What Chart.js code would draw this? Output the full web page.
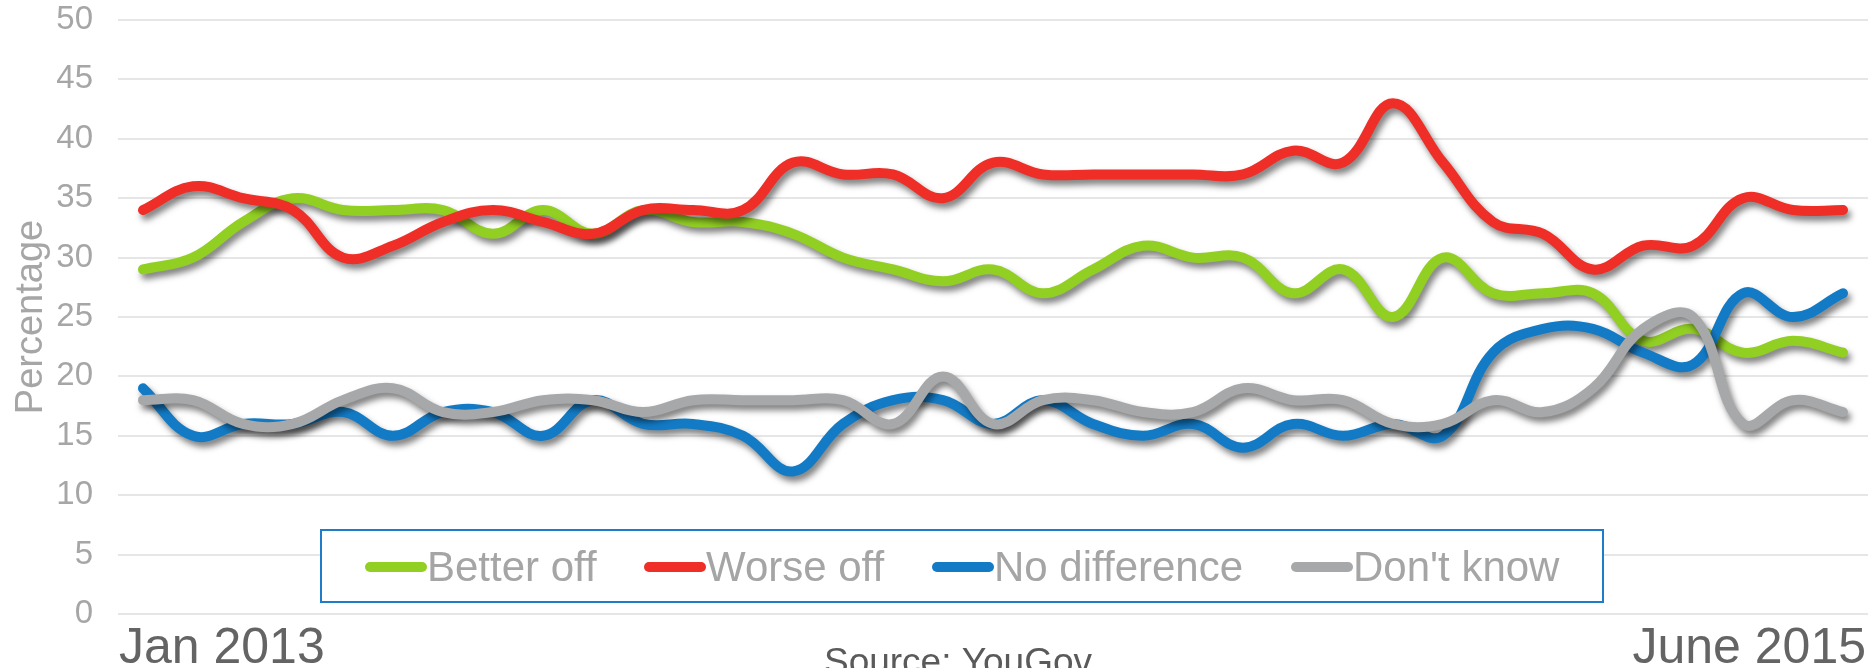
<!DOCTYPE html>
<html>
<head>
<meta charset="utf-8">
<script src="https://cdn.jsdelivr.net/npm/chart.js@4.4.1/dist/chart.umd.min.js"></script>
<style>
  html, body { margin: 0; padding: 0; background: #ffffff; }
  #wrap { width: 1870px; height: 668px; position: relative; }
</style>
</head>
<body>
<div id="wrap"><canvas id="c" width="1870" height="668"></canvas></div>
<script>
// ---- data ----
const categories = ['Jan 2013','','','','','','','','','','','','','','','','','','','','','','','','','','','','','','','','','','June 2015'];
const betterOff    = [29,30,33,35,34,34,34,32,34,32,34,33,33,32,30,29,28,29,27,29,31,30,30,27,29,25,30,27,27,27,23,24,22,23,22];
const worseOff     = [34,36,35,34,30,31,33,34,33,32,34,34,34,38,37,37,35,38,37,37,37,37,37,39,38,43,38,33,32,29,31,31,35,34,34];
const noDifference = [19,15,16,16,17,15,17,17,15,18,16,16,15,12,16,18,18,16,18,16,15,16,14,16,15,16,15,22,24,24,22,21,27,25,27];
const dontKnow     = [18,18,16,16,18,19,17,17,18,18,17,18,18,18,18,16,20,16,18,18,17,17,19,18,18,16,16,18,17,19,24,25,16,18,17];
const seriesNames  = ['Better off','Worse off','No difference',"Don't know"];
const seriesColors = ['#92cf23','#ee2e27','#137bc6','#a7a8aa'];
const yTicks = [0,5,10,15,20,25,30,35,40,45,50];
const sourceText = 'Source: YouGov';
const yTitle = 'Percentage';

const FONT = "'Liberation Sans', Arial, Helvetica, sans-serif";

const shadowPlugin = {
  id: 'shadow',
  beforeDatasetDraw(chart) {
    const ctx = chart.ctx;
    ctx.save();
    ctx.shadowColor = 'rgba(0,0,0,0.5)';
    ctx.shadowBlur = 6;
    ctx.shadowOffsetX = 3;
    ctx.shadowOffsetY = 5;
  },
  afterDatasetDraw(chart) {
    chart.ctx.restore();
  }
};

const decorPlugin = {
  id: 'decor',
  afterDraw(chart) {
    const ctx = chart.ctx;
    const area = chart.chartArea;
    ctx.save();
    // x edge labels
    ctx.font = '50px ' + FONT;
    ctx.fillStyle = '#646464';
    ctx.textBaseline = 'alphabetic';
    ctx.textAlign = 'left';
    ctx.fillText(categories[0], area.left + 1, 663);
    ctx.textAlign = 'right';
    ctx.fillText(categories[categories.length - 1], area.right - 2, 663);
    // source
    ctx.font = '37px ' + FONT;
    ctx.fillStyle = '#5a5a5a';
    ctx.textAlign = 'center';
    ctx.fillText(sourceText, 958, 674);

    // legend box
    const bx = 321, by = 530, bw = 1282, bh = 72;
    ctx.fillStyle = '#ffffff';
    ctx.fillRect(bx, by, bw, bh);
    ctx.strokeStyle = '#1f7cc9';
    ctx.lineWidth = 2;
    ctx.strokeRect(bx, by, bw, bh);
    const starts = [365, 644, 932, 1291];
    const cy = 567;
    ctx.font = '42px ' + FONT;
    ctx.textAlign = 'left';
    ctx.textBaseline = 'middle';
    chart.data.datasets.forEach((ds, i) => {
      const x0 = starts[i];
      ctx.strokeStyle = ds.borderColor;
      ctx.lineWidth = 10;
      ctx.lineCap = 'round';
      ctx.beginPath();
      ctx.moveTo(x0 + 5, cy);
      ctx.lineTo(x0 + 57, cy);
      ctx.stroke();
      ctx.fillStyle = '#a5a5a5';
      ctx.fillText(ds.label, x0 + 62, cy + 2);
    });
    ctx.restore();
  }
};

new Chart(document.getElementById('c'), {
  type: 'line',
  data: {
    labels: categories,
    datasets: [
      { label: seriesNames[0], data: betterOff,    borderColor: seriesColors[0], order: 3 },
      { label: seriesNames[1], data: worseOff,     borderColor: seriesColors[1], order: 2 },
      { label: seriesNames[2], data: noDifference, borderColor: seriesColors[2], order: 1 },
      { label: seriesNames[3], data: dontKnow,     borderColor: seriesColors[3], order: 0 }
    ]
  },
  options: {
    responsive: false,
    animation: false,
    devicePixelRatio: 1,
    layout: { padding: { left: 0, right: 2, top: 20, bottom: 54 } },
    elements: {
      line: { borderWidth: 10, tension: 0.4, borderCapStyle: 'round', borderJoinStyle: 'round', fill: false },
      point: { radius: 0, hoverRadius: 0 }
    },
    plugins: {
      legend: { display: false },
      tooltip: { enabled: false }
    },
    scales: {
      x: { display: false, offset: true },
      y: {
        min: 0, max: 50,
        afterBuildTicks(scale) { scale.ticks = yTicks.map(v => ({ value: v })); },
        afterFit(scale) { scale.width = 118; },
        ticks: { color: '#a6a6a6', font: { family: FONT, size: 33 }, padding: 0 },
        grid: { color: '#e6e6e6', lineWidth: 2, drawTicks: true, tickLength: 25, tickColor: 'rgba(0,0,0,0)' },
        border: { display: false },
        title: { display: true, text: yTitle, color: '#a6a6a6', font: { family: FONT, size: 38 }, padding: { top: 9, bottom: 0 } }
      }
    }
  },
  plugins: [shadowPlugin, decorPlugin]
});
</script>
</body>
</html>
